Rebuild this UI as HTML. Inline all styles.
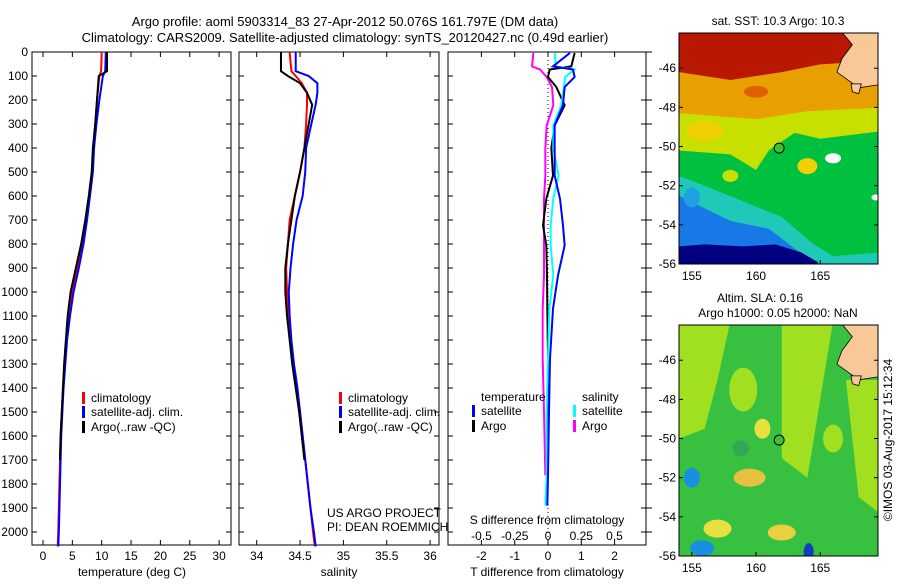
<!DOCTYPE html>
<html><head><meta charset="utf-8"><style>
body{margin:0;background:#fff;width:900px;height:580px;overflow:hidden;font-family:"Liberation Sans",sans-serif}
svg text{font-family:"Liberation Sans",sans-serif;fill:#000}
</style></head><body>
<svg id="s" width="900" height="580" viewBox="0 0 900 580">
<text x="345" y="26" font-size="13" text-anchor="middle">Argo profile: aoml 5903314_83 27-Apr-2012 50.076S 161.797E (DM data)</text>
<text x="345" y="42" font-size="13" text-anchor="middle">Climatology: CARS2009. Satellite-adjusted climatology: synTS_20120427.nc (0.49d earlier)</text>
<g id="g"></g>
</svg>
<script>
// ---------- data ----------
const tDepth=[0,80,100,200,300,400,500,600,700,800,900,1000,1100,1200,1300,1400,1500,1600,1700,1800,1900,2000,2060];
const tClim=[10.0,9.9,9.6,9.2,8.9,8.6,8.4,7.9,7.3,6.6,5.8,4.9,4.4,4.0,3.7,3.4,3.2,3.0,2.9,2.8,2.7,2.6,2.5];
const tSat=[10.7,10.6,10.2,9.6,9.1,8.7,8.5,8.0,7.5,6.9,6.1,5.2,4.6,4.1,3.8,3.5,3.3,3.1,3.0,2.9,2.8,2.7,2.6];
const tArgo=[10.9,10.9,9.5,9.2,8.9,8.5,8.3,7.8,7.2,6.5,5.6,4.7,4.2,3.9,3.6,3.4,3.2,3.0,2.9];
const sDepth=[0,80,100,130,170,220,300,400,500,600,700,800,900,1000,1100,1200,1300,1400,1500,1600,1700,1800,1900,2000,2060];
const sClim=[34.38,34.40,34.45,34.52,34.58,34.58,34.57,34.55,34.50,34.44,34.38,34.36,34.34,34.35,34.37,34.39,34.42,34.46,34.50,34.53,34.56,34.59,34.62,34.65,34.67];
const sSat=[34.45,34.45,34.60,34.70,34.70,34.68,34.63,34.57,34.56,34.53,34.46,34.42,34.39,34.37,34.38,34.40,34.43,34.47,34.50,34.53,34.56,34.59,34.62,34.66,34.68];
const sArgo=[34.28,34.28,34.36,34.50,34.58,34.64,34.60,34.55,34.50,34.44,34.40,34.36,34.33,34.33,34.35,34.38,34.41,34.45,34.49,34.52,34.55];
const dDepth=[4,60,73,104,146,222,306,400,515,611,722,806,931,1070,1278,1500,1764,1890];
const dTsat=[0.66,0.15,0.75,0.8,0.5,0.45,0.2,0.2,0.2,0.36,0.45,0.5,0.3,0.15,0.06,0.03,0.0,-0.02];
const dTargo=[0.8,0.7,0.05,0.0,0.25,0.5,0.2,0.1,0.15,-0.05,-0.15,-0.05,-0.03,-0.02,0.0,0.0,0.0];
const dSsat=[0.05,0.06,0.2,0.13,0.12,0.1,0.04,0.04,0.08,0.04,0.02,0.02,0.04,0.01,0.0,-0.01,-0.01,-0.02];
const dSargo=[-0.11,-0.12,-0.06,-0.01,0.03,0.04,-0.01,-0.02,-0.02,-0.03,-0.03,-0.03,-0.03,-0.04,-0.04,-0.03,-0.02];
const depthTicks=[0,100,200,300,400,500,600,700,800,900,1000,1100,1200,1300,1400,1500,1600,1700,1800,1900,2000];
const tTicks=[0,5,10,15,20,25,30];
const sTicks=[34,34.5,35,35.5,36];
const dtTicks=[-2,-1,0,1,2];
const dsTicks=[-0.5,-0.25,0,0.25,0.5];
const latTicks=[-46,-48,-50,-52,-54,-56];
const lonTicks=[155,160,165];
// ---------- helpers ----------
const NS='http://www.w3.org/2000/svg';const G=document.getElementById('g');
function mk(t,a,p){const e=document.createElementNS(NS,t);for(const k in a)e.setAttribute(k,a[k]);(p||G).appendChild(e);return e;}
const Y0=52,Y1=545;const yD=d=>Y0+d*0.24;
const P1={x0:32,x1:231},P2={x0:239,x1:439},P3={x0:448,x1:646};
const xT=v=>43+v*5.87, xS=v=>256.7+(v-34)*86.7, xDT=v=>548+v*33.3, xDS=v=>548+v*133;
function box(p,name){const r=mk('rect',{x:p.x0,y:Y0,width:p.x1-p.x0,height:Y1-Y0,fill:'none',stroke:'#000','stroke-width':1});}
function line(xs,ds,fx,col,name,w){let pts=[];for(let i=0;i<xs.length;i++){pts.push(fx(xs[i])+','+yD(ds[i]));}
 const e=mk('polyline',{points:pts.join(' '),fill:'none',stroke:col,'stroke-width':w||2});}
function txt(x,y,s,sz,anc,name){const e=mk('text',{x:x,y:y,'font-size':sz,'text-anchor':anc||'start'});e.textContent=s;return e;}
// panels
[[P1,'temperature-panel'],[P2,'salinity-panel'],[P3,'difference-panel']].forEach(([p,n])=>box(p,n));
depthTicks.forEach(d=>{const y=yD(d);txt(28,y+4,String(d),12,'end','depth-tick-label');
 [P1,P2,P3].forEach(p=>{mk('line',{x1:p.x0,x2:p.x0+5,y1:y,y2:y,stroke:'#000'});mk('line',{x1:p.x1-5,x2:p.x1,y1:y,y2:y,stroke:'#000'});});
 mk('line',{x1:P3.x1,x2:P3.x1+6,y1:y,y2:y,stroke:'#000'});});
tTicks.forEach(v=>{const x=xT(v);mk('line',{x1:x,x2:x,y1:Y0,y2:Y0+5,stroke:'#000'});mk('line',{x1:x,x2:x,y1:Y1-5,y2:Y1,stroke:'#000'});txt(x,560,String(v),12,'middle','temperature-tick-label');});
sTicks.forEach(v=>{const x=xS(v);mk('line',{x1:x,x2:x,y1:Y0,y2:Y0+5,stroke:'#000'});mk('line',{x1:x,x2:x,y1:Y1-5,y2:Y1,stroke:'#000'});txt(x,560,String(v),12,'middle','salinity-tick-label');});
dtTicks.forEach(v=>{const x=xDT(v);mk('line',{x1:x,x2:x,y1:Y0,y2:Y0+5,stroke:'#000'});mk('line',{x1:x,x2:x,y1:Y1-5,y2:Y1,stroke:'#000'});txt(x,560,String(v),12,'middle','t-diff-tick-label');});
dsTicks.forEach(v=>{txt(xDS(v),540,String(v),12,'middle','s-diff-tick-label');});
txt(132,576,'temperature (deg C)',12,'middle','temperature-axis-title');
txt(339,576,'salinity',12,'middle','salinity-axis-title');
txt(547,576,'T difference from climatology',12,'middle','t-diff-axis-title');
txt(547,524,'S difference from climatology',12,'middle','s-diff-axis-title');
txt(327,517,'US ARGO PROJECT',12,'start','project-label');
txt(327,531,'PI: DEAN ROEMMICH',12,'start','pi-label');
mk('line',{x1:548,x2:548,y1:Y0,y2:Y1,stroke:'#000','stroke-dasharray':'1,3'});
// profiles
line(tClim,tDepth,xT,'#f00','temperature-climatology-line');
line(tSat,tDepth,xT,'#00f','temperature-satellite-line');
line(tArgo,tDepth,xT,'#000','temperature-argo-line');
line(sClim,sDepth,xS,'#f00','salinity-climatology-line');
line(sSat,sDepth,xS,'#00f','salinity-satellite-line');
line(sArgo,sDepth,xS,'#000','salinity-argo-line');
line(dSargo,dDepth,xDS,'#f0f','s-diff-argo-line');
line(dTargo,dDepth,xDT,'#000','t-diff-argo-line');
line(dSsat,dDepth,xDS,'#0ff','s-diff-satellite-line');
line(dTsat,dDepth,xDT,'#00f','t-diff-satellite-line');
// legends
function leg(x,y,col,s,name){mk('rect',{x:x,y:y-10,width:3,height:12,fill:col});txt(x+9,y,s,12,'start',name);}
[[82],[339]].forEach(([x])=>{leg(x,402,'#f00','climatology','legend-climatology');leg(x,416,'#00f','satellite-adj. clim.','legend-satellite-adj');leg(x,431,'#000','Argo(..raw -QC)','legend-argo');});
txt(481,401,'temperature',12,'start','legend-temperature-header');
leg(472,415,'#00f','satellite','legend-t-satellite');leg(472,430,'#000','Argo','legend-t-argo');
txt(582,401,'salinity',12,'start','legend-salinity-header');
leg(573,415,'#0ff','satellite','legend-s-satellite');leg(573,430,'#f0f','Argo','legend-s-argo');
// ---------- maps ----------
const M={x0:679,x1:878};
const lonX=l=>679+(l-154)*(199/15.5);
function mapFrame(y0,y1,name,bands,blobs){
 const latY=la=>y0+(-44.2-la)*((y1-y0)/11.8);
 const gp=mk('g',{});
 const cp=mk('clipPath',{id:'c'+name},gp);mk('rect',{x:M.x0,y:y0,width:M.x1-M.x0,height:y1-y0},cp);
 const inner=mk('g',{'clip-path':'url(#c'+name+')'},gp);
 bands.forEach(b=>mk('polygon',{points:b[1].map(p=>lonX(p[0])+','+latY(p[1])).join(' '),fill:b[0]},inner));
 blobs.forEach(b=>mk('ellipse',{cx:lonX(b[1]),cy:latY(b[2]),rx:b[3],ry:b[4],fill:b[0]},inner));
 mk('polygon',{points:[[166.5,-44],[170,-44],[170,-46.8],[168,-47],[166.3,-46.2],[166.7,-45.5],[167.5,-44.8]].map(p=>lonX(p[0])+','+latY(p[1])).join(' '),fill:'#f8c898',stroke:'#000','stroke-width':0.8},inner);
 mk('polygon',{points:[[167.4,-46.8],[168.2,-46.8],[168,-47.3],[167.5,-47.2]].map(p=>lonX(p[0])+','+latY(p[1])).join(' '),fill:'#f8c898',stroke:'#000','stroke-width':0.8},inner);
 mk('rect',{x:M.x0,y:y0,width:M.x1-M.x0,height:y1-y0,fill:'none',stroke:'#000'},gp);
 const c=mk('circle',{cx:lonX(161.8),cy:latY(-50.08),r:5,fill:'#40c030',stroke:'#000'},gp);
 
 latTicks.forEach(la=>{const y=latY(la);mk('line',{x1:M.x0,x2:M.x0+4,y1:y,y2:y,stroke:'#000'},gp);mk('line',{x1:M.x1-4,x2:M.x1,y1:y,y2:y,stroke:'#000'},gp);
  const t=txt(676,y+4,String(la),12,'end','latitude-tick-label');gp.appendChild(t);});
 lonTicks.forEach(l=>{const x=lonX(l);mk('line',{x1:x,x2:x,y1:y1-4,y2:y1,stroke:'#000'},gp);const t=txt(x,y1+16,String(l),12,'middle','longitude-tick-label');gp.appendChild(t);});
}
mapFrame(33,264,'sst-map',[
 ['#00c040',[[154,-57],[170,-57],[170,-44],[154,-44]]],
 ['#20c8b8',[[154,-57],[170,-57],[170,-55.4],[166,-55.6],[164.5,-55],[162,-53.6],[159,-52.8],[156,-52],[154,-51.5]]],
 ['#1878e8',[[154,-57],[165,-57],[164.5,-56],[163,-55.2],[161,-54.2],[158,-53.8],[155.5,-53],[154,-52.5]]],
 ['#000080',[[154,-57],[164.8,-57],[164.8,-55.9],[163.5,-55.4],[161.5,-55],[159,-55.1],[156,-55],[154,-55.1]]],
 ['#c8e000',[[154,-50.2],[158,-50.4],[160,-51.2],[161,-50.2],[163,-49.3],[165,-49.6],[170,-49.2],[170,-44],[154,-44]]],
 ['#e8a000',[[154,-48.3],[160,-48.6],[164,-48.2],[170,-48],[170,-44],[154,-44]]],
 ['#b81800',[[154,-46.2],[158,-46.6],[162,-46.2],[165,-45.8],[170,-45.6],[170,-44],[154,-44]]]
],[['#f0d000',156,-49.2,18,10],['#f0d000',164,-51,10,8],['#e06000',160,-47.2,12,6],['#20a0e0',155,-52.6,8,10],['#c8e000',158,-51.5,8,6],['#00c040',163,-50.2,14,8],['#fff',166,-50.6,8,5],['#fff',169.3,-52.6,4,3]]);
mapFrame(325,556,'sla-map',[
 ['#38c040',[[154,-57],[170,-57],[170,-44],[154,-44]]],
 ['#a0e020',[[154,-44],[158,-44],[157,-47],[156,-49.5],[154,-50]]],
 ['#a0e020',[[162,-44],[166,-44],[165,-48],[164,-52],[162,-51]]],
 ['#a0e020',[[167,-47],[170,-47],[170,-54],[168,-53]]]
],[['#a0e020',159,-47.5,14,22],['#e8e040',160.5,-49.5,8,10],['#e8c040',159.5,-52,16,9],['#e8e040',157,-54.6,14,9],['#e8d040',162,-54.8,14,8],['#1890e0',155,-52,8,10],['#1890e0',155.8,-55.6,12,8],['#1040c0',164.1,-55.8,5,9],['#a0e020',166,-50,10,14],['#30a858',158.8,-50.5,8,8],['#a0e020',155.5,-46,10,10]]);
const cr=txt(892,440,'©IMOS 03-Aug-2017 15:12:34',12,'middle','timestamp-label');cr.setAttribute('transform','rotate(-90 892 440)');
txt(778,25,'sat. SST: 10.3 Argo: 10.3',12,'middle','sst-map-title');
txt(760,302,'Altim. SLA: 0.16',12,'middle','sla-map-title-1');
txt(778,317,'Argo h1000: 0.05 h2000: NaN',12,'middle','sla-map-title-2');
</script>
</body></html>
